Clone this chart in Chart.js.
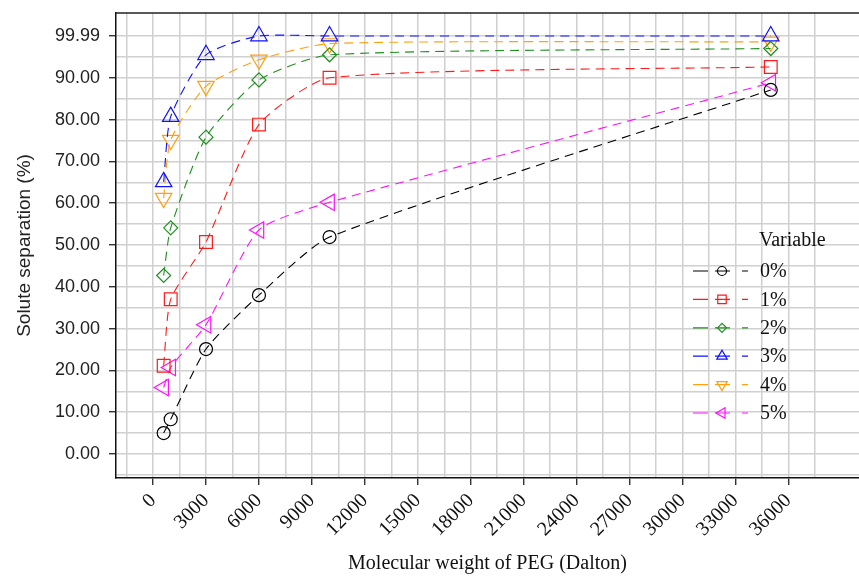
<!DOCTYPE html>
<html>
<head>
<meta charset="utf-8">
<script src="https://cdn.jsdelivr.net/npm/chart.js@4.4.1/dist/chart.umd.min.js"></script>
<style>
  html, body { margin: 0; padding: 0; background: #ffffff; overflow: hidden; }
  canvas { display: block; }
</style>
</head>
<body>
<canvas id="c" width="859" height="578"></canvas>
<script>
// PEG molecular weight (Dalton) and solute separation (%) per additive level
const molecularWeights = [600, 1000, 3000, 6000, 10000, 35000];
const seriesLabels = ['0%', '1%', '2%', '3%', '4%', '5%'];
const sep0 = [5.0, 8.3, 25.1, 38.0, 51.9, 87.1];
const sep1 = [21.1, 37.0, 50.7, 78.8, 90.0, 92.6];
const sep2 = [42.7, 54.1, 75.8, 89.5, 95.5, 97.0];
const sep3 = [65.1, 80.7, 95.5, 99.99, 99.99, 99.99];
const sep4 = [61.2, 75.1, 88.0, 94.3, 98.2, 98.6];
const sep5 = [15.9, 20.7, 30.9, 53.6, 60.2, 88.8];

// labelled tick values
const xTickLabels = [0, 3000, 6000, 9000, 12000, 15000, 18000, 21000, 24000, 27000, 30000, 33000, 36000];
const yTickLabels = [0, 10, 20, 30, 40, 50, 60, 70, 80, 90, 99.99];

const seriesValues = [sep0, sep1, sep2, sep3, sep4, sep5];
const colors = ['#000000', '#ff1a1a', '#1f8f1f', '#1010ff', '#ffa010', '#ff10ff'];
const styles = [
  { pointStyle: 'circle', rotation: 0, radius: 6.5 },
  { pointStyle: 'rect', rotation: 0, radius: 9 },
  { pointStyle: 'rectRot', rotation: 0, radius: 7 },
  { pointStyle: 'triangle', rotation: 0, radius: 9.5 },
  { pointStyle: 'triangle', rotation: 180, radius: 9.5 },
  { pointStyle: 'triangle', rotation: 270, radius: 9.5 }
];

// grid positions: labelled ticks plus half-step lines between them
const xGrid = [];
for (let v = -1500; v <= 37500; v += 1500) xGrid.push(v);
const yGrid = [];
for (let v = -5; v <= 95; v += 5) yGrid.push(v);
yGrid.push(99.99);

const isXLabel = v => xTickLabels.includes(v);
const isYLabel = v => yTickLabels.some(t => Math.abs(t - v) < 1e-6);

const datasets = seriesValues.map((vals, i) => ({
  label: seriesLabels[i],
  data: molecularWeights.map((x, j) => ({ x: x, y: vals[j] })),
  borderColor: colors[i],
  borderWidth: 1.1,
  borderDash: [9, 6],
  tension: 0.2,
  fill: false,
  pointStyle: styles[i].pointStyle,
  pointRotation: styles[i].rotation,
  pointRadius: styles[i].radius,
  pointHoverRadius: styles[i].radius,
  pointBorderWidth: 1.2,
  pointBorderColor: colors[i],
  pointBackgroundColor: 'rgba(0,0,0,0)'
}));

// let the plot area run to the right edge of the canvas
const fullWidthArea = {
  id: 'fullWidthArea',
  afterLayout(chart) {
    const ca = chart.chartArea;
    ca.right = chart.width;
    ca.width = ca.right - ca.left;
    const xs = chart.scales.x;
    xs.right = chart.width;
    xs.width = xs.right - xs.left;
    xs.configure();
  }
};

// top frame line of the plot area
const frameTop = {
  id: 'frameTop',
  afterDraw(chart) {
    const { ctx, chartArea } = chart;
    ctx.save();
    ctx.strokeStyle = '#222';
    ctx.lineWidth = 1.5;
    ctx.beginPath();
    ctx.moveTo(chartArea.left, chartArea.top);
    ctx.lineTo(chartArea.right, chartArea.top);
    ctx.stroke();
    ctx.restore();
  }
};

function markerPath(ctx, style, rotation, r, x, y) {
  if (Chart.helpers && Chart.helpers.drawPoint) {
    Chart.helpers.drawPoint(ctx, { pointStyle: style, rotation: rotation, radius: r, borderWidth: 1 }, x, y);
    return;
  }
  ctx.beginPath();
  ctx.arc(x, y, r, 0, Math.PI * 2);
  ctx.stroke();
}

// "Variable" legend inside the plot area: line, marker, dash, label
const variableLegend = {
  id: 'variableLegend',
  afterDatasetsDraw(chart) {
    const { ctx } = chart;
    ctx.save();
    ctx.fillStyle = '#111';
    ctx.font = '20px "Liberation Serif", "Times New Roman", serif';
    ctx.textBaseline = 'middle';
    ctx.textAlign = 'left';
    ctx.fillText('Variable', 759, 241);
    chart.data.datasets.forEach((ds, i) => {
      const y = 271 + i * 28.4;
      ctx.strokeStyle = ds.borderColor;
      ctx.lineWidth = 1.2;
      ctx.setLineDash([]);
      ctx.beginPath();
      ctx.moveTo(693, y); ctx.lineTo(708, y);
      ctx.moveTo(715, y); ctx.lineTo(730, y);
      ctx.moveTo(742, y); ctx.lineTo(748, y);
      ctx.stroke();
      ctx.fillStyle = 'rgba(0,0,0,0)';
      const r = ds.pointStyle === 'rect' ? 6 : (ds.pointStyle === 'triangle' ? 6 : 4.5);
      markerPath(ctx, ds.pointStyle, ds.pointRotation, r, 722, y);
      ctx.fillStyle = '#111';
      ctx.fillText(ds.label, 760, y + 1);
    });
    ctx.restore();
  }
};

new Chart(document.getElementById('c'), {
  type: 'line',
  data: { datasets: datasets },
  plugins: [fullWidthArea, frameTop, variableLegend],
  options: {
    responsive: false,
    maintainAspectRatio: false,
    devicePixelRatio: 1,
    animation: false,
    layout: { padding: { top: 13, right: 0, bottom: 0, left: 0 } },
    plugins: {
      legend: { display: false },
      tooltip: { enabled: false }
    },
    scales: {
      x: {
        type: 'linear',
        min: -2100,
        max: 40000,
        afterBuildTicks(scale) { scale.ticks = xGrid.map(v => ({ value: v })); },
        afterFit(scale) {
          scale.height = 100;
          scale.paddingLeft = 0;
          scale.paddingRight = 0;
        },
        ticks: {
          autoSkip: false,
          minRotation: 45,
          maxRotation: 45,
          padding: 4,
          color: '#111',
          font: { family: '"Liberation Serif", "Times New Roman", serif', size: 20 },
          callback: v => (isXLabel(v) ? String(v) : '')
        },
        grid: {
          color: '#d0d0d0',
          lineWidth: 1.5,
          tickLength: 7,
          tickWidth: 1.2,
          tickColor: c => (c.tick && isXLabel(c.tick.value) ? '#111' : 'rgba(0,0,0,0)')
        },
        border: { color: '#111', width: 1.5 },
        title: {
          display: true,
          text: 'Molecular weight of PEG (Dalton)',
          color: '#111',
          font: { family: '"Liberation Serif", "Times New Roman", serif', size: 20 },
          padding: { top: 0, bottom: 2 }
        }
      },
      y: {
        type: 'linear',
        min: -5.75,
        max: 105.5,
        afterBuildTicks(scale) { scale.ticks = yGrid.map(v => ({ value: v })); },
        afterFit(scale) {
          scale.width = 116;
          scale.paddingTop = 0;
          scale.paddingBottom = 0;
        },
        ticks: {
          autoSkip: false,
          padding: 9,
          color: '#222',
          font: { family: '"Liberation Sans", Arial, sans-serif', size: 18 },
          callback: v => (isYLabel(v) ? Number(v).toFixed(2) : '')
        },
        grid: {
          color: '#d0d0d0',
          lineWidth: 1.5,
          tickLength: 7,
          tickWidth: 1.2,
          tickColor: c => (c.tick && isYLabel(c.tick.value) ? '#111' : 'rgba(0,0,0,0)')
        },
        border: { color: '#111', width: 1.5 },
        title: {
          display: true,
          text: 'Solute separation (%)',
          color: '#222',
          font: { family: '"Liberation Sans", Arial, sans-serif', size: 19 },
          padding: { top: 13, bottom: 0 }
        }
      }
    }
  }
});
</script>
</body>
</html>
